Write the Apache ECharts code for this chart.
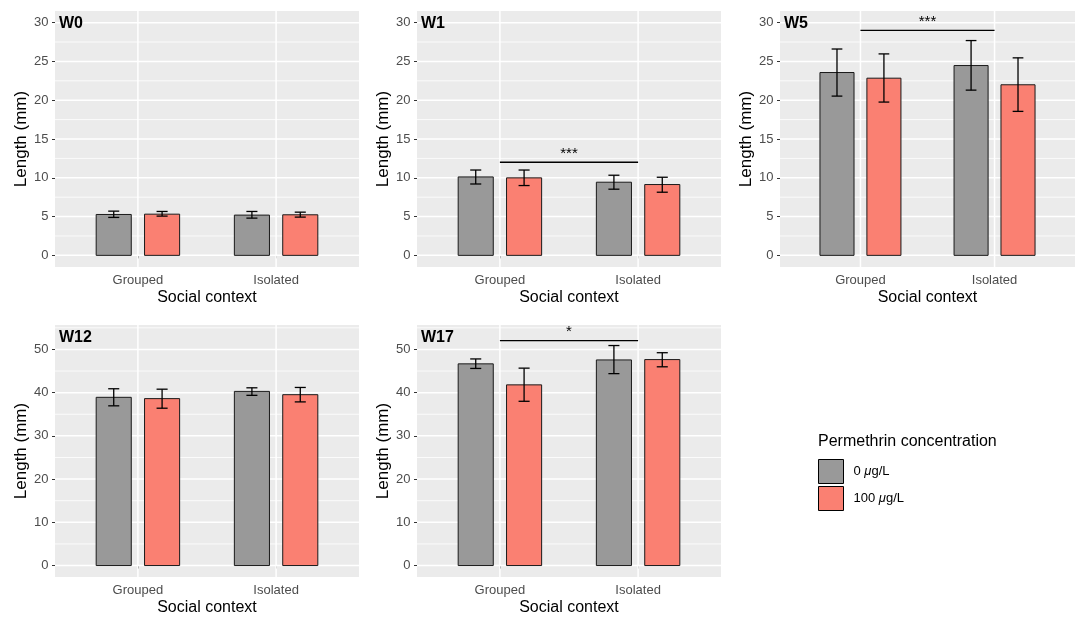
<!DOCTYPE html>
<html>
<head>
<meta charset="utf-8">
<script src="https://cdn.jsdelivr.net/npm/echarts@6/dist/echarts.min.js"></script>
<style>
html,body{margin:0;padding:0;background:#fff;}
#chart{width:1075px;height:617px;}
</style>
</head>
<body>
<div id="chart"></div>
<script>
const categories = ['Grouped', 'Isolated'];
const panelNames = ['W0', 'W1', 'W5', 'W12', 'W17'];
const groupNames = ['0 μg/L', '100 μg/L'];
// per panel: [Grouped, Isolated]
const ctrlMean  = [[5.27, 5.19], [10.11, 9.43], [23.57, 24.47], [38.92, 40.29], [46.66, 47.57]];
const ctrlLow   = [[4.89, 4.80], [9.20, 8.53],  [20.53, 21.30], [36.95, 39.38], [45.60, 44.40]];
const ctrlHigh  = [[5.70, 5.66], [11.00, 10.33],[26.60, 27.69], [40.90, 41.12], [47.80, 50.90]];
const treatMean = [[5.31, 5.23], [9.99, 9.13],  [22.84, 21.99], [38.62, 39.53], [41.80, 47.65]];
const treatLow  = [[5.06, 4.93], [9.00, 8.14],  [19.76, 18.56], [36.40, 37.86], [38.00, 45.98]];
const treatHigh = [[5.66, 5.57], [11.00, 10.07],[25.97, 25.46], [40.80, 41.20], [45.67, 49.24]];
const sigY      = [null, 12.0, 29.0, null, 52.05];
const sigLabel  = ['', '***', '***', '', '*'];
const yLimit    = [30, 30, 30, 53, 53];
const yMajor    = [[0,5,10,15,20,25,30],[0,5,10,15,20,25,30],[0,5,10,15,20,25,30],[0,10,20,30,40,50],[0,10,20,30,40,50]];
const yMinor    = [[2.5,7.5,12.5,17.5,22.5,27.5],[2.5,7.5,12.5,17.5,22.5,27.5],[2.5,7.5,12.5,17.5,22.5,27.5],[5,15,25,35,45,55],[5,15,25,35,45,55]];

const FONT = 'Liberation Sans, Arial, Helvetica, sans-serif';
const gridPos = [
  {left: 55, top: 11}, {left: 417, top: 11}, {left: 780, top: 11},
  {left: 55, top: 325}, {left: 417, top: 325}
];
const GW = 304, GH = 256;
const colors = ['#999999', '#FA8072'];
const dodge = 0.175, barW = 0.254, capW = 0.08;

const chart = echarts.init(document.getElementById('chart'), null, {renderer: 'canvas'});

const grids = [], xAxes = [], yAxes = [], series = [], titles = [];
panelNames.forEach((name, p) => {
  grids.push({left: gridPos[p].left, top: gridPos[p].top, width: GW, height: GH,
    show: true, backgroundColor: '#EBEBEB', borderWidth: 0, containLabel: false});
  xAxes.push({type: 'value', gridIndex: p, min: 0.4, max: 2.6,
    name: 'Social context', nameLocation: 'middle', nameGap: 23,
    nameTextStyle: {fontFamily: FONT, fontSize: 16, color: '#000'},
    axisLine: {show: false}, splitLine: {show: false},
    axisTick: {show: true, length: 3, customValues: [1, 2], lineStyle: {color: '#333333', width: 1}},
    axisLabel: {customValues: [1, 2], margin: 7, fontFamily: FONT, fontSize: 13, color: '#4D4D4D',
      formatter: v => categories[Math.round(v) - 1]}
  });
  const lim = yLimit[p];
  yAxes.push({type: 'value', gridIndex: p, min: -0.05 * lim, max: lim * 1.05,
    name: 'Length (mm)', nameLocation: 'middle', nameGap: 25.5, nameRotate: 90,
    nameTextStyle: {fontFamily: FONT, fontSize: 17, color: '#000'},
    axisLine: {show: false}, splitLine: {show: false},
    axisTick: {show: true, length: 3, customValues: yMajor[p], lineStyle: {color: '#333333', width: 1}},
    axisLabel: {customValues: yMajor[p], margin: 6.5, fontFamily: FONT, fontSize: 13, color: '#4D4D4D'}
  });
  titles.push({text: name, left: gridPos[p].left + 4, top: gridPos[p].top + 5, padding: 0,
    textStyle: {fontFamily: FONT, fontSize: 16, fontWeight: 'bold', color: '#000'}});

  // grid lines
  const gl = [];
  yMinor[p].forEach(v => gl.push([v, 1]));
  yMajor[p].forEach(v => gl.push([v, 0]));
  [1, 2].forEach(v => gl.push([v, 2]));
  series.push({type: 'custom', xAxisIndex: p, yAxisIndex: p, silent: true, z: 1,
    data: gl, encode: {x: -1, y: -1},
    renderItem: (params, api) => {
      const cs = params.coordSys;
      const v = api.value(0), k = api.value(1);
      if (k === 2) {
        const x = api.coord([v, 0])[0];
        return {type: 'line', shape: {x1: x, y1: cs.y, x2: x, y2: cs.y + cs.height},
          style: {stroke: '#FFFFFF', lineWidth: 1.5}};
      }
      const y = api.coord([1, v])[1];
      if (y < cs.y - 0.5 || y > cs.y + cs.height + 0.5) return null;
      return {type: 'line', shape: {x1: cs.x, y1: y, x2: cs.x + cs.width, y2: y},
        style: {stroke: '#FFFFFF', lineWidth: k === 0 ? 1.5 : 0.8}};
    }
  });

  // bars with error bars
  const groups = [[ctrlMean, ctrlLow, ctrlHigh], [treatMean, treatLow, treatHigh]];
  groups.forEach((g, gi) => {
    const off = gi === 0 ? -dodge : dodge;
    series.push({type: 'custom', name: groupNames[gi], xAxisIndex: p, yAxisIndex: p, z: 3,
      itemStyle: {color: colors[gi], borderColor: '#000', borderWidth: 1},
      data: categories.map((c, ci) => [ci + 1, g[0][p][ci], g[1][p][ci], g[2][p][ci]]),
      encode: {x: 0, y: 1},
      renderItem: (params, api) => {
        const x = api.value(0), m = api.value(1), lo = api.value(2), hi = api.value(3);
        const tl = api.coord([x + off - barW / 2, m]);
        const br = api.coord([x + off + barW / 2, 0]);
        const cx = api.coord([x + off, 0])[0];
        const cl = api.coord([x + off - capW / 2, 0])[0];
        const cr = api.coord([x + off + capW / 2, 0])[0];
        const yl = api.coord([x, lo])[1], yh = api.coord([x, hi])[1];
        const ls = {stroke: '#000', lineWidth: 1.3};
        return {type: 'group', children: [
          {type: 'rect', shape: {x: tl[0], y: tl[1], width: br[0] - tl[0], height: br[1] - tl[1]},
            style: {fill: colors[gi], stroke: '#1A1A1A', lineWidth: 1}},
          {type: 'line', shape: {x1: cx, y1: yl, x2: cx, y2: yh}, style: ls},
          {type: 'line', shape: {x1: cl, y1: yl, x2: cr, y2: yl}, style: ls},
          {type: 'line', shape: {x1: cl, y1: yh, x2: cr, y2: yh}, style: ls}
        ]};
      }
    });
  });

  // significance
  if (sigY[p] !== null) {
    const lab = sigLabel[p];
    series.push({type: 'custom', xAxisIndex: p, yAxisIndex: p, z: 4, silent: true,
      data: [[1, sigY[p], 2]], encode: {x: 0, y: 1},
      renderItem: (params, api) => {
        const a = api.coord([api.value(0), api.value(1)]);
        const b = api.coord([api.value(2), api.value(1)]);
        return {type: 'group', children: [
          {type: 'line', shape: {x1: a[0], y1: a[1], x2: b[0], y2: b[1]}, style: {stroke: '#000', lineWidth: 1.3}},
          {type: 'text', style: {text: lab, x: (a[0] + b[0]) / 2, y: a[1] - 1, align: 'center', verticalAlign: 'bottom',
            fontFamily: FONT, fontSize: 15, fill: '#000'}}
        ]};
      }
    });
  }
});

chart.setOption({
  animation: false,
  backgroundColor: '#FFFFFF',
  title: titles,
  grid: grids,
  xAxis: xAxes,
  yAxis: yAxes,
  series: series,
  legend: {
    data: groupNames, orient: 'vertical', left: 818, top: 459, padding: 0,
    itemWidth: 25, itemHeight: 24, itemGap: 2, icon: 'rect',
    itemStyle: {borderColor: '#000', borderWidth: 1},
    selectedMode: false,
    formatter: n => n.replace('μ', '{i|μ}'),
    textStyle: {fontFamily: FONT, fontSize: 13, color: '#000', padding: [0, 0, 0, 5],
      rich: {i: {fontStyle: 'italic', fontFamily: FONT, fontSize: 13}}}
  },
  graphic: [{type: 'text', left: 818, top: 434,
    style: {text: 'Permethrin concentration', fontFamily: FONT, fontSize: 16, fill: '#000'}}]
});
</script>
</body>
</html>
